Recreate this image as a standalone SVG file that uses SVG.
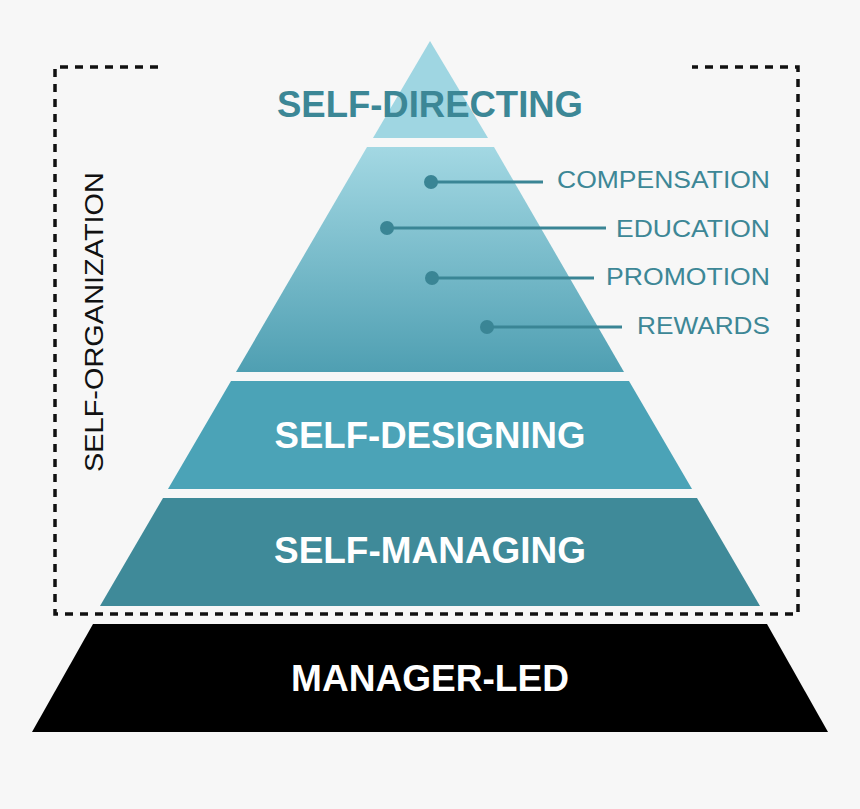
<svg xmlns="http://www.w3.org/2000/svg" width="860" height="809" viewBox="0 0 860 809">
<defs>
<linearGradient id="g2" x1="0" y1="147" x2="0" y2="372" gradientUnits="userSpaceOnUse">
<stop offset="0" stop-color="#a3d8e3"/>
<stop offset="1" stop-color="#4f9fb2"/>
</linearGradient>
<style>
.big{font-family:"Liberation Sans",Arial,sans-serif;font-weight:bold;font-size:36px;text-anchor:middle}
.lbl{font-family:"Liberation Sans",Arial,sans-serif;font-size:23.5px;fill:#3d8796;text-anchor:end}
.lead{stroke:#3a8595;stroke-width:3;fill:none}
.dot{fill:#3a8595}
.dash{stroke:#111;stroke-width:3.5;fill:none;stroke-dasharray:8 7}
</style>
</defs>
<rect width="860" height="809" fill="#f7f7f7"/>
<g id="bracket">
<path class="dash" d="M158,67 H55 V614 H798 V67 H692"/>
<text x="0" y="0" transform="translate(103,322) rotate(-90)" font-family="'Liberation Sans',Arial,sans-serif" font-size="25" fill="#111" text-anchor="middle" textLength="300" lengthAdjust="spacingAndGlyphs">SELF-ORGANIZATION</text>
</g>
<g id="self-directing">
<polygon points="430,41 488,138 373,138" fill="#9fd6e2"/>
<text class="big" x="430" y="117" fill="#3c8796" textLength="306" lengthAdjust="spacingAndGlyphs">SELF-DIRECTING</text>
</g>
<g id="band2">
<polygon points="367,147 494,147 624,372 236,372" fill="url(#g2)"/>
</g>
<g id="self-designing">
<polygon points="231,381 629,381 692,489 168,489" fill="#4ba3b7"/>
<text class="big" x="430" y="448" fill="#fff" textLength="311" lengthAdjust="spacingAndGlyphs">SELF-DESIGNING</text>
</g>
<g id="self-managing">
<polygon points="163,498 697,498 760,606 100,606" fill="#3f8a99"/>
<text class="big" x="430" y="563" fill="#fff" textLength="312" lengthAdjust="spacingAndGlyphs">SELF-MANAGING</text>
</g>
<g id="manager-led">
<polygon points="93,624 767,624 828,732 32,732" fill="#000"/>
<text class="big" x="430" y="691" fill="#fff" textLength="278" lengthAdjust="spacingAndGlyphs">MANAGER-LED</text>
</g>
<g id="connectors">
<line class="lead" x1="431" y1="182" x2="543" y2="182"/>
<circle class="dot" cx="431" cy="182" r="7"/>
<line class="lead" x1="387" y1="228" x2="606" y2="228"/>
<circle class="dot" cx="387" cy="228" r="7"/>
<line class="lead" x1="432" y1="278" x2="594" y2="278"/>
<circle class="dot" cx="432" cy="278" r="7"/>
<line class="lead" x1="487" y1="327" x2="622" y2="327"/>
<circle class="dot" cx="487" cy="327" r="7"/>
</g>
<g id="labels">
<text class="lbl" x="770" y="188" textLength="213" lengthAdjust="spacingAndGlyphs">COMPENSATION</text>
<text class="lbl" x="770" y="237" textLength="154" lengthAdjust="spacingAndGlyphs">EDUCATION</text>
<text class="lbl" x="770" y="285" textLength="164" lengthAdjust="spacingAndGlyphs">PROMOTION</text>
<text class="lbl" x="770" y="334" textLength="133" lengthAdjust="spacingAndGlyphs">REWARDS</text>
</g>
</svg>
